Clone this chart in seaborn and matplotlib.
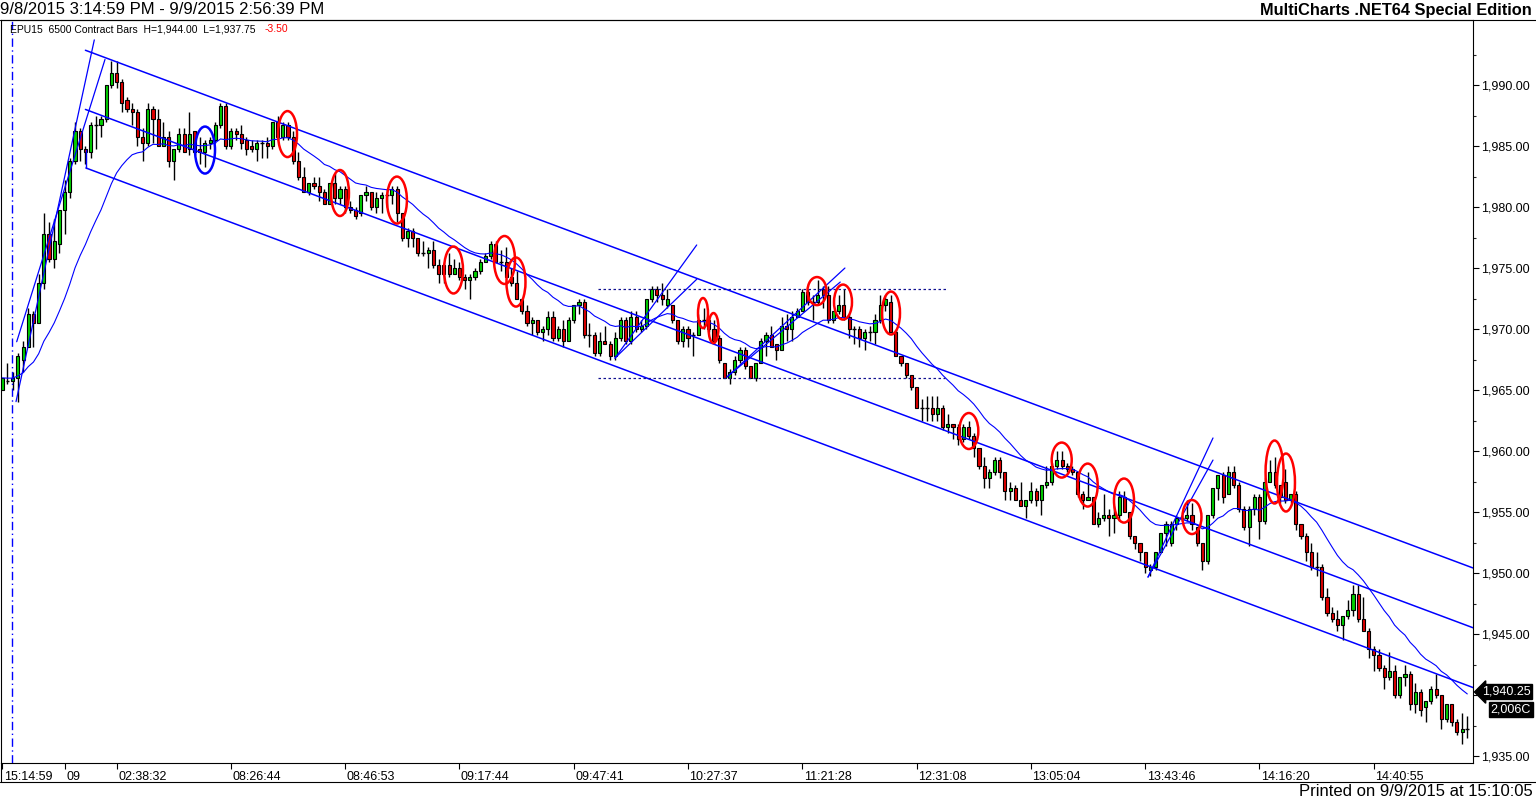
import numpy as np
import pandas as pd
import matplotlib
matplotlib.use("Agg")
import matplotlib.pyplot as plt
import matplotlib.transforms as mtransforms
from matplotlib.patches import Ellipse
from matplotlib.lines import Line2D
import seaborn as sns

# ---------------- data (bar index = position, prices) ----------------
opens = [
    1965.0, 1965.75, 1965.75, 1966.0, 1967.5, 1968.5, 1971.25, 1970.5, 1973.75, 1977.75,
    1975.75, 1977.0, 1979.75, 1981.25, 1983.75, 1986.25, 1984.75, 1984.5, 1986.75, 1986.75,
    1987.25, 1990.0, 1991.0, 1990.25, 1988.75, 1988.0, 1987.75, 1985.75, 1985.25, 1988.0,
    1987.25, 1985.0, 1985.75, 1983.75, 1984.75, 1986.0, 1984.75, 1986.25, 1984.75, 1984.5,
    1985.25, 1985.5, 1986.75, 1988.25, 1985.0, 1986.25, 1986.0, 1985.5, 1985.0, 1984.75,
    1985.25, 1985.25, 1985.0, 1987.0, 1985.75, 1986.75, 1985.75, 1983.75, 1982.5, 1981.25,
    1982.0, 1981.75, 1981.25, 1980.25, 1982.0, 1980.75, 1981.5, 1980.0, 1979.75, 1979.5,
    1981.0, 1981.25, 1980.0, 1980.75, 1981.0, 1981.0, 1981.5, 1979.5, 1977.5, 1978.0,
    1977.5, 1976.25, 1976.25, 1976.5, 1975.25, 1974.5, 1975.25, 1974.5, 1975.0, 1974.25,
    1974.0, 1974.25, 1974.75, 1975.5, 1976.0, 1977.0, 1975.5, 1975.5, 1974.25, 1973.75,
    1972.5, 1971.5, 1970.5, 1970.75, 1969.75, 1970.0, 1971.0, 1969.25, 1970.0, 1969.0,
    1970.75, 1972.0, 1972.25, 1969.5, 1969.5, 1968.0, 1969.0, 1968.75, 1967.75, 1969.25,
    1970.75, 1969.0, 1971.0, 1970.0, 1970.25, 1972.5, 1973.25, 1972.75, 1972.0, 1972.0,
    1970.75, 1969.0, 1970.0, 1969.5, 1969.5, 1970.75, 1970.75, 1970.0, 1969.25, 1967.25,
    1966.0, 1966.5, 1967.5, 1968.25, 1967.0, 1966.0, 1967.25, 1969.0, 1969.5, 1968.75,
    1968.25, 1970.25, 1970.0, 1971.0, 1971.5, 1973.0, 1972.25, 1972.25, 1973.25, 1972.75,
    1970.75, 1971.5, 1972.0, 1971.0, 1970.0, 1970.0, 1969.25, 1969.75, 1969.75, 1970.75,
    1972.0, 1972.25, 1969.75, 1967.75, 1967.25, 1966.25, 1965.25, 1963.5, 1963.5, 1963.5,
    1963.0, 1963.5, 1962.0, 1962.25, 1962.0, 1961.0, 1962.0, 1961.25, 1960.25, 1958.75,
    1957.75, 1958.25, 1959.25, 1958.25, 1956.75, 1957.0, 1956.0, 1955.5, 1956.0, 1956.75,
    1956.0, 1957.25, 1957.5, 1958.75, 1959.25, 1958.75, 1958.5, 1958.25, 1956.5, 1956.0,
    1956.25, 1954.0, 1954.5, 1954.75, 1954.5, 1954.75, 1956.25, 1955.0, 1953.0, 1952.5,
    1951.75, 1950.25, 1950.5, 1951.75, 1953.25, 1952.5, 1954.0, 1954.5, 1954.5, 1954.75,
    1953.75, 1952.5, 1951.0, 1954.75, 1957.0, 1958.0, 1956.5, 1958.25, 1957.25, 1955.25,
    1953.75, 1955.25, 1956.25, 1954.25, 1957.5, 1958.25, 1957.25, 1957.5, 1956.0, 1956.5,
    1954.0, 1953.0, 1951.75, 1950.5, 1950.5, 1948.0, 1946.75, 1946.25, 1945.75, 1946.5,
    1947.0, 1948.25, 1946.25, 1945.25, 1943.75, 1943.25, 1942.25, 1941.5, 1942.0, 1940.0,
    1941.5, 1941.75, 1939.25, 1940.25, 1939.0, 1939.5, 1940.5, 1940.0, 1938.0, 1939.25,
    1937.75, 1937.0, 1937.25,
]
highs = [
    1966.0, 1967.25, 1966.5, 1968.0, 1969.0, 1971.75, 1971.5, 1974.5, 1979.5, 1978.75,
    1979.0, 1979.75, 1982.25, 1984.0, 1987.0, 1986.5, 1985.0, 1987.0, 1987.5, 1987.5,
    1990.0, 1992.0, 1992.0, 1990.5, 1989.0, 1988.5, 1988.0, 1986.5, 1988.5, 1988.25,
    1988.0, 1987.0, 1986.25, 1984.75, 1986.5, 1986.5, 1987.75, 1986.25, 1985.75, 1985.5,
    1985.75, 1987.0, 1988.5, 1988.5, 1986.5, 1986.5, 1986.75, 1985.75, 1985.5, 1985.5,
    1985.5, 1985.75, 1987.0, 1987.5, 1987.0, 1987.0, 1986.25, 1984.5, 1983.25, 1982.0,
    1982.5, 1982.5, 1981.5, 1982.0, 1982.75, 1981.75, 1981.75, 1980.5, 1980.0, 1981.0,
    1981.75, 1981.25, 1981.25, 1981.25, 1981.5, 1981.75, 1981.75, 1979.5, 1978.25, 1978.25,
    1977.5, 1977.25, 1976.75, 1977.25, 1975.75, 1975.5, 1976.25, 1975.75, 1975.5, 1974.5,
    1974.5, 1975.0, 1975.75, 1976.25, 1977.25, 1977.25, 1976.5, 1976.75, 1975.0, 1974.75,
    1972.5, 1972.0, 1971.0, 1970.75, 1970.25, 1971.5, 1971.5, 1970.25, 1970.75, 1971.0,
    1972.0, 1972.5, 1972.5, 1970.5, 1969.75, 1969.75, 1970.25, 1969.0, 1969.75, 1971.0,
    1971.0, 1971.5, 1971.5, 1970.75, 1972.5, 1973.5, 1973.5, 1973.75, 1973.25, 1972.0,
    1970.75, 1970.25, 1970.25, 1969.75, 1971.25, 1971.75, 1971.0, 1970.75, 1969.5, 1967.25,
    1966.75, 1967.75, 1968.5, 1968.5, 1967.0, 1967.25, 1969.25, 1969.75, 1970.25, 1968.75,
    1971.0, 1971.25, 1971.5, 1971.75, 1973.25, 1973.25, 1972.75, 1974.0, 1973.5, 1973.5,
    1971.5, 1972.75, 1973.25, 1971.25, 1970.25, 1970.25, 1970.0, 1970.25, 1971.25, 1972.75,
    1972.75, 1972.75, 1970.0, 1967.75, 1967.25, 1966.25, 1965.25, 1964.25, 1964.5, 1964.5,
    1964.5, 1963.75, 1963.0, 1962.25, 1962.25, 1962.25, 1962.5, 1961.5, 1960.25, 1959.5,
    1958.5, 1959.5, 1959.5, 1958.25, 1957.5, 1957.25, 1957.5, 1956.0, 1957.5, 1957.0,
    1957.25, 1958.75, 1959.0, 1960.0, 1960.0, 1959.0, 1958.75, 1958.25, 1956.75, 1958.25,
    1956.25, 1955.0, 1956.5, 1955.25, 1955.5, 1956.75, 1956.75, 1955.0, 1953.0, 1952.5,
    1951.75, 1950.75, 1951.75, 1953.25, 1954.25, 1954.25, 1954.75, 1954.75, 1956.0, 1955.75,
    1953.75, 1952.5, 1954.75, 1957.0, 1958.0, 1958.25, 1958.75, 1958.75, 1957.5, 1955.5,
    1955.5, 1956.5, 1956.5, 1957.75, 1959.25, 1959.5, 1957.25, 1958.5, 1956.5, 1956.75,
    1954.0, 1953.25, 1952.5, 1951.75, 1950.75, 1948.75, 1947.25, 1947.0, 1946.5, 1947.75,
    1949.0, 1949.0, 1948.0, 1945.5, 1944.0, 1943.75, 1942.5, 1943.5, 1942.5, 1941.5,
    1942.5, 1942.0, 1941.0, 1940.5, 1939.5, 1940.75, 1941.75, 1940.0, 1939.25, 1939.25,
    1938.0, 1938.5, 1938.25,
]
lows = [
    1965.0, 1965.5, 1965.0, 1964.0, 1966.5, 1968.5, 1968.5, 1970.5, 1973.25, 1975.5,
    1975.0, 1976.25, 1977.75, 1980.75, 1983.5, 1983.75, 1983.5, 1984.0, 1984.75, 1985.75,
    1987.0, 1989.75, 1989.75, 1987.75, 1987.75, 1986.75, 1985.0, 1983.75, 1985.0, 1985.25,
    1985.0, 1985.0, 1983.25, 1982.25, 1984.5, 1984.5, 1984.25, 1984.25, 1983.5, 1983.25,
    1984.75, 1985.25, 1986.5, 1984.75, 1984.75, 1985.5, 1984.75, 1984.25, 1984.5, 1983.75,
    1984.0, 1984.0, 1984.75, 1985.5, 1985.5, 1985.5, 1983.5, 1982.25, 1981.25, 1981.0,
    1981.5, 1980.5, 1980.25, 1980.25, 1980.25, 1980.25, 1979.5, 1979.5, 1979.0, 1979.25,
    1980.5, 1979.75, 1979.5, 1979.5, 1980.0, 1980.25, 1978.75, 1977.25, 1976.75, 1976.75,
    1976.0, 1976.0, 1975.0, 1975.0, 1973.75, 1973.75, 1974.25, 1974.5, 1974.0, 1973.25,
    1972.5, 1974.0, 1974.5, 1975.5, 1975.75, 1975.5, 1974.75, 1974.25, 1973.5, 1972.5,
    1971.25, 1970.25, 1969.5, 1969.5, 1969.0, 1969.5, 1969.0, 1969.0, 1968.5, 1969.0,
    1970.5, 1971.25, 1969.25, 1968.5, 1967.75, 1967.75, 1968.75, 1967.5, 1967.5, 1969.0,
    1968.75, 1968.75, 1969.75, 1969.75, 1970.0, 1972.25, 1972.25, 1972.0, 1971.75, 1970.5,
    1968.75, 1968.5, 1968.5, 1967.75, 1969.5, 1970.0, 1969.75, 1968.75, 1967.25, 1966.0,
    1965.5, 1966.25, 1967.25, 1966.75, 1966.0, 1965.75, 1967.25, 1967.75, 1968.5, 1967.5,
    1968.25, 1969.0, 1969.0, 1971.0, 1971.5, 1972.0, 1970.75, 1972.0, 1971.75, 1970.5,
    1970.5, 1971.25, 1970.75, 1969.25, 1968.75, 1968.5, 1968.25, 1969.0, 1968.75, 1970.5,
    1971.5, 1969.75, 1967.75, 1967.0, 1966.0, 1965.0, 1963.5, 1962.5, 1962.5, 1962.5,
    1962.5, 1961.75, 1961.5, 1961.0, 1960.5, 1960.75, 1961.0, 1959.5, 1958.5, 1957.0,
    1957.0, 1958.0, 1957.75, 1956.0, 1956.0, 1956.0, 1955.5, 1954.5, 1955.75, 1955.5,
    1954.75, 1957.0, 1957.25, 1958.5, 1958.5, 1958.25, 1958.0, 1956.25, 1955.25, 1956.0,
    1954.0, 1953.75, 1954.25, 1953.0, 1953.25, 1954.25, 1955.0, 1952.75, 1952.0, 1951.0,
    1950.0, 1949.75, 1950.25, 1951.75, 1952.25, 1952.25, 1953.5, 1954.25, 1954.25, 1953.5,
    1952.25, 1950.25, 1950.75, 1954.5, 1956.0, 1955.75, 1956.5, 1957.0, 1955.0, 1953.5,
    1952.25, 1954.75, 1952.75, 1954.0, 1957.5, 1957.0, 1955.75, 1955.75, 1955.75, 1953.5,
    1952.75, 1951.0, 1950.25, 1949.75, 1947.75, 1946.5, 1946.0, 1945.25, 1944.5, 1946.25,
    1946.5, 1946.0, 1945.25, 1943.0, 1942.0, 1942.0, 1940.5, 1941.25, 1939.75, 1939.75,
    1940.75, 1938.75, 1938.5, 1938.25, 1937.75, 1939.25, 1939.75, 1937.25, 1937.75, 1937.5,
    1936.75, 1936.0, 1936.5,
]
closes = [
    1966.0, 1965.75, 1966.0, 1967.75, 1968.5, 1971.25, 1970.5, 1973.75, 1977.75, 1975.75,
    1977.25, 1979.75, 1981.25, 1983.75, 1986.25, 1984.75, 1984.5, 1986.75, 1986.75, 1987.25,
    1990.0, 1991.0, 1990.25, 1988.5, 1988.0, 1987.75, 1985.75, 1985.25, 1988.0, 1987.25,
    1985.0, 1985.75, 1983.75, 1984.75, 1986.0, 1984.5, 1986.0, 1984.5, 1984.5, 1985.25,
    1985.5, 1986.75, 1988.25, 1985.0, 1986.25, 1986.0, 1985.25, 1984.75, 1984.75, 1985.25,
    1985.25, 1985.0, 1987.0, 1985.75, 1986.75, 1985.75, 1983.75, 1982.5, 1981.25, 1982.0,
    1981.75, 1981.25, 1980.25, 1982.0, 1980.75, 1981.5, 1980.0, 1979.75, 1979.25, 1981.0,
    1981.25, 1980.0, 1980.75, 1981.0, 1981.0, 1981.5, 1979.5, 1977.5, 1978.0, 1977.5,
    1976.25, 1976.25, 1976.5, 1975.25, 1974.5, 1975.25, 1974.5, 1975.0, 1974.25, 1974.0,
    1974.25, 1974.75, 1975.5, 1976.0, 1977.0, 1975.5, 1975.5, 1974.25, 1973.75, 1972.5,
    1971.5, 1970.5, 1970.75, 1969.75, 1970.0, 1971.0, 1969.25, 1970.0, 1969.0, 1970.75,
    1972.0, 1972.25, 1969.5, 1969.5, 1968.0, 1969.0, 1968.75, 1967.75, 1969.25, 1970.75,
    1969.0, 1971.0, 1970.0, 1970.25, 1972.5, 1973.25, 1972.75, 1972.5, 1972.5, 1970.75,
    1969.0, 1970.0, 1969.25, 1969.5, 1970.75, 1970.75, 1970.0, 1969.0, 1967.5, 1966.0,
    1966.5, 1967.5, 1968.25, 1967.0, 1966.0, 1967.25, 1969.0, 1969.5, 1968.5, 1968.25,
    1970.25, 1970.0, 1971.0, 1971.5, 1973.0, 1972.25, 1972.25, 1972.75, 1972.75, 1970.75,
    1971.5, 1972.0, 1971.0, 1970.0, 1970.0, 1969.25, 1969.75, 1969.75, 1970.75, 1972.0,
    1972.5, 1969.75, 1967.75, 1967.25, 1966.25, 1965.25, 1963.5, 1963.5, 1963.5, 1963.0,
    1963.5, 1962.0, 1962.25, 1962.0, 1961.0, 1962.0, 1961.25, 1960.25, 1958.75, 1957.75,
    1958.25, 1959.25, 1958.25, 1956.75, 1957.0, 1956.0, 1955.5, 1956.0, 1956.75, 1956.0,
    1957.25, 1957.5, 1958.75, 1959.25, 1958.75, 1958.5, 1958.25, 1956.5, 1956.0, 1956.25,
    1954.0, 1954.5, 1954.75, 1954.5, 1954.75, 1956.25, 1955.0, 1953.0, 1952.5, 1951.75,
    1950.5, 1950.5, 1951.75, 1953.25, 1954.0, 1954.0, 1954.5, 1954.5, 1954.75, 1954.0,
    1952.5, 1951.0, 1954.75, 1957.0, 1958.0, 1956.25, 1958.25, 1957.25, 1955.25, 1953.75,
    1955.25, 1956.25, 1954.25, 1957.5, 1958.25, 1957.25, 1956.25, 1956.0, 1956.5, 1954.0,
    1953.0, 1951.75, 1950.5, 1950.5, 1948.0, 1946.75, 1946.25, 1945.75, 1946.5, 1947.0,
    1948.25, 1946.25, 1945.25, 1943.75, 1943.25, 1942.25, 1941.5, 1942.0, 1940.0, 1941.5,
    1941.75, 1939.25, 1940.25, 1938.75, 1939.5, 1940.5, 1940.0, 1938.0, 1939.25, 1937.75,
    1937.0, 1937.25, 1937.25,
]

tick_positions = [0, 12, 22, 44, 66, 88, 110, 132, 154, 176, 198, 220, 242, 264]
tick_labels = ["15:14:59", "09", "02:38:32", "08:26:44", "08:46:53", "09:17:44", "09:47:41",
               "10:27:37", "11:21:28", "12:31:08", "13:05:04", "13:43:46", "14:16:20", "14:40:55"]
price_ticks = [1935, 1940, 1945, 1950, 1955, 1960, 1965, 1970, 1975, 1980, 1985, 1990]
last_value = 1940.25          # value shown in the black price tag (its tick label is hidden under it)
volume_tag = "2,006C"

# drawn study / annotation objects (bar index, price)
channel_upper = [(16.0, 1992.85), (283.2, 1950.4)]
channel_mid = [(16.0, 1988.0), (283.2, 1945.5)]
channel_low = [(16.1, 1983.2), (283.2, 1940.6)]
fan_lines = [
    [(2.64, 1964.05), (17.71, 1993.7)],
    [(2.77, 1968.96), (19.77, 1992.1)],
    [(117.94, 1967.62), (133.67, 1976.89)],
    [(117.94, 1967.62), (133.67, 1974.08)],
    [(139.5, 1966.07), (162.2, 1975.0)],
    [(139.5, 1966.07), (161.3, 1973.85)],
    [(220.54, 1949.67), (233.05, 1961.07)],
    [(220.54, 1949.67), (233.05, 1959.26)],
]
range_levels = [(1973.25, 114.7, 181.9), (1966.0, 114.7, 181.5)]
session_break = 1.925
red_circles = [
    (54.9, 1985.98, 3.66, 3.77), (65.0, 1981.15, 3.46, 3.77), (75.96, 1980.57, 3.85, 3.85),
    (86.85, 1974.84, 3.66, 3.85), (96.67, 1975.66, 4.04, 3.93), (98.88, 1973.85, 3.66, 4.02),
    (134.88, 1971.31, 1.92, 2.46), (136.9, 1970.08, 1.92, 2.46), (156.82, 1973.11, 3.66, 2.30),
    (161.83, 1972.21, 3.46, 2.87), (171.07, 1971.31, 3.46, 3.52), (186.05, 1961.64, 3.66, 2.95),
    (203.93, 1959.26, 3.85, 2.87), (208.93, 1957.21, 3.85, 3.52), (215.92, 1955.94, 3.85, 3.61),
    (229.0, 1954.59, 3.66, 2.79), (244.9, 1958.28, 3.46, 5.16), (247.1, 1957.42, 3.46, 4.75),
]
blue_circles = [(39.02, 1984.67, 3.85, 3.85)]
MA_SPAN = 18

assert len(opens) == len(highs) == len(lows) == len(closes), (len(opens), len(highs), len(lows), len(closes))

# ---------------- style ----------------
sns.set_style("white")
plt.rcParams["font.family"] = ["Liberation Sans", "DejaVu Sans"]
GREEN = "#00D000"
RED = "#E00000"
BLUE = "#0000FF"

W, H = 1536, 801
fig = plt.figure(figsize=(W / 100, H / 100), dpi=100)
fig.patch.set_facecolor("white")
ax = fig.add_axes([1 / W, 38 / H, 1472 / W, 743 / H])
ax.set_facecolor("white")

n = len(closes)
df = pd.DataFrame({"x": np.arange(n), "o": opens, "h": highs, "l": lows, "c": closes})
df["ma"] = df["c"].ewm(span=MA_SPAN, adjust=False).mean()

# wicks
ax.vlines(df["x"], df["l"], df["h"], color="black", lw=1.0, zorder=2)
# bodies
body = df[df["c"] != df["o"]]
cols = np.where(body["c"] > body["o"], GREEN, RED)
ax.bar(body["x"], body["c"] - body["o"], bottom=body["o"], width=0.6, color=cols,
       edgecolor="black", linewidth=0.8, zorder=3)
doji = df[df["c"] == df["o"]]
ax.hlines(doji["o"], doji["x"] - 0.38, doji["x"] + 0.38, color="black", lw=1.0, zorder=3)

# channel
for ln in (channel_upper, channel_mid, channel_low):
    (x0, y0), (x1, y1) = ln
    ax.plot([x0, x1], [y0, y1], color=BLUE, lw=1.1, zorder=5)
ax.plot([channel_low[0][0], channel_low[0][0]], [channel_low[0][1], 1984.7], color=BLUE, lw=1.0, zorder=5)
for ln in fan_lines:
    (x0, y0), (x1, y1) = ln
    ax.plot([x0, x1], [y0, y1], color=BLUE, lw=0.9, zorder=5)

# moving average
sns.lineplot(data=df, x="x", y="ma", ax=ax, color=BLUE, lw=0.8, zorder=4, legend=False)

# range levels
for lvl, xa, xb in range_levels:
    ax.plot([xa, xb], [lvl, lvl], color="#101090", lw=0.9, ls=(0, (2, 2)), zorder=5)

# session break
ax.axvline(session_break, color=BLUE, lw=1.0, ls=(0, (6, 2.5, 1, 2.5)), zorder=5)

# marks
for cx, cy, w, h in red_circles:
    ax.add_patch(Ellipse((cx, cy), w, h, fill=False, edgecolor="#FF0000", lw=1.8, zorder=6))
for cx, cy, w, h in blue_circles:
    ax.add_patch(Ellipse((cx, cy), w, h, fill=False, edgecolor=BLUE, lw=1.8, zorder=6))

# axes
ax.set_xlim(-0.25, 283.1)
ax.set_ylim(1934.43, 1995.33)
ax.set_xlabel("")
ax.set_ylabel("")
for s in ax.spines.values():
    s.set_color("black")
    s.set_linewidth(0.8)
    s.set_visible(True)

ax.yaxis.tick_right()
ax.set_yticks(price_ticks)
# the 1,940.00 label sits under the price tag in the reference, so it is left blank
ax.set_yticklabels(["" if abs(v - last_value) < 2.5 else f"{v:,.2f}" for v in price_ticks])
ax.set_yticks([p + 2.5 for p in price_ticks], minor=True)
ax.tick_params(axis="y", which="major", right=True, left=False, direction="out", length=4,
               width=0.8, pad=2, labelsize=9, colors="black")
ax.tick_params(axis="y", which="minor", right=True, left=False, direction="out", length=2.5, width=0.8)
ax.set_xticks(tick_positions)
ax.set_xticklabels(tick_labels, ha="left")
ax.tick_params(axis="x", bottom=True, direction="out", length=4, width=0.8, pad=1.5,
               labelsize=9, colors="black")
offset = mtransforms.ScaledTranslation(1.5 / 100, 0, fig.dpi_scale_trans)
for lab in ax.get_xticklabels():
    lab.set_transform(lab.get_transform() + offset)

# frame pieces outside the axes
fig.add_artist(Line2D([0, 1], [781 / H, 781 / H], transform=fig.transFigure, color="black", lw=0.8))
fig.add_artist(Line2D([0, 1], [19 / H, 19 / H], transform=fig.transFigure, color="black", lw=0.8))
fig.add_artist(Line2D([0.6 / W, 0.6 / W], [19 / H, 38 / H], transform=fig.transFigure, color="black", lw=0.8))

# texts
fig.text(0.5 / W, (H - 10) / H, "9/8/2015 3:14:59 PM - 9/9/2015 2:56:39 PM", ha="left", va="center",
         fontsize=12, color="black")
fig.text(1532 / W, (H - 10) / H, "MultiCharts .NET64 Special Edition", ha="right", va="center",
         fontsize=11.8, fontweight="bold", color="black")
fig.text(10 / W, (H - 29) / H, "EPU15  6500 Contract Bars  H=1,944.00  L=1,937.75", ha="left",
         va="center", fontsize=7.5, color="black")
fig.text(265 / W, (H - 29) / H, "-3.50", ha="left", va="center", fontsize=7.5, color="#FF0000")
fig.text(1531 / W, (H - 692) / H, f"{last_value:,.2f}", ha="right", va="center", fontsize=9, color="white",
         bbox=dict(boxstyle="larrow,pad=0.12", facecolor="black", edgecolor="black"))
fig.text(1531 / W, (H - 709) / H, volume_tag, ha="right", va="center", fontsize=9, color="white",
         bbox=dict(boxstyle="square,pad=0.12", facecolor="black", edgecolor="black"))
fig.text(1533 / W, (H - 792) / H, "Printed on 9/9/2015 at 15:10:05", ha="right", va="center",
         fontsize=12, color="black")

fig.savefig("out.png", dpi=100, facecolor="white")
